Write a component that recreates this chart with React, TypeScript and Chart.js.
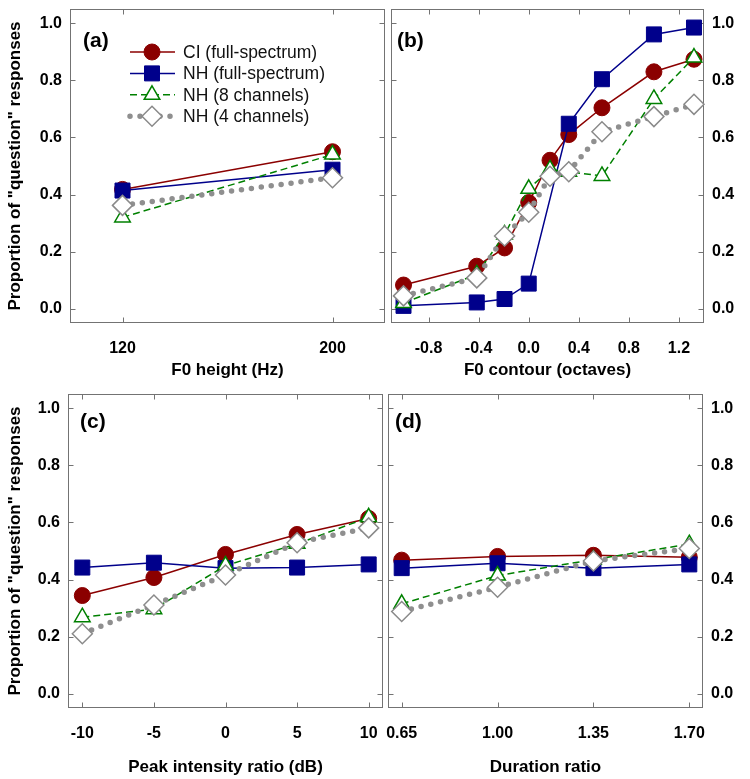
import React, { useEffect, useRef } from 'react';
import { Chart, registerables } from 'chart.js';

Chart.register(...registerables);

const FONT = "'Liberation Sans', Arial, Helvetica, sans-serif";

// ---------- data ----------
const seriesNames = ['CI (full-spectrum)', 'NH (full-spectrum)', 'NH (8 channels)', 'NH (4 channels)'];
const yTickValues = [0, 0.2, 0.4, 0.6, 0.8, 1.0];
const yTitle = 'Proportion of "question" responses';

// (a) F0 height
const aX = [120, 200];
const aTicks = [120, 200];
const aCI = [0.418, 0.55];
const aNHfull = [0.414, 0.487];
const aNH8 = [0.32, 0.54];
const aNH4 = [0.362, 0.459];

// (b) F0 contour
const bX = [-1.0, -0.415, -0.193, 0, 0.17, 0.32, 0.585, 1.0, 1.32];
const bTicks = [-0.8, -0.4, 0, 0.4, 0.8, 1.2];
const bCI = [0.083, 0.149, 0.213, 0.372, 0.52, 0.61, 0.704, 0.83, 0.874];
const bNHfull = [0.01, 0.022, 0.034, 0.088, null, 0.648, 0.804, 0.961, 0.985];
const bNH8 = [0.02, 0.12, 0.26, 0.42, 0.488, 0.48, 0.465, 0.735, 0.88];
const bNH4 = [0.045, 0.108, 0.255, 0.338, 0.464, 0.48, 0.62, 0.673, 0.716];

// (c) Peak intensity ratio
const cX = [-10, -5, 0, 5, 10];
const cTicks = [-10, -5, 0, 5, 10];
const cCI = [0.344, 0.407, 0.488, 0.558, 0.614];
const cNHfull = [0.442, 0.459, 0.44, 0.442, 0.453];
const cNH8 = [0.268, 0.296, 0.449, 0.525, 0.618];
const cNH4 = [0.21, 0.311, 0.416, 0.529, 0.581];

// (d) Duration ratio
const dX = [0.65, 1.0, 1.35, 1.7];
const dTicks = [0.65, 1.0, 1.35, 1.7];
const dCI = [0.468, 0.481, 0.485, 0.478];
const dNHfull = [0.44, 0.457, 0.44, 0.453];
const dNH8 = [0.315, 0.414, 0.47, 0.524];
const dNH4 = [0.288, 0.373, 0.465, 0.509];

// ---------- styles ----------
type Sty = { line: string; dash: number[]; lw: number; cap: CanvasLineCap; ps: string; r: number; fill: string; pb: string; pbw: number };
const STYLES: Sty[] = [
  { line: '#8b0000', dash: [], lw: 1.5, cap: 'butt', ps: 'circle', r: 8, fill: '#8b0000', pb: '#8b0000', pbw: 1 },
  { line: '#00008b', dash: [], lw: 1.5, cap: 'butt', ps: 'rect', r: 10.6, fill: '#00008b', pb: '#00008b', pbw: 1 },
  { line: '#008000', dash: [7, 4], lw: 1.5, cap: 'butt', ps: 'triangle', r: 9, fill: '#ffffff', pb: '#008000', pbw: 1.5 },
  { line: '#8f8f8f', dash: [0, 10], lw: 5.5, cap: 'round', ps: 'rectRot', r: 10, fill: '#ffffff', pb: '#8a8a8a', pbw: 1.5 },
];

type Panel = {
  label: string; xs: number[]; series: (number | null)[][]; ticks: number[]; fmt: (v: number) => string;
  xMin: number; xMax: number; xTitle: string; yPos: 'left' | 'right'; legend: boolean;
  box: { l: number; t: number; w: number; h: number };
  pad: { left: number; top: number; right: number; bottom: number };
  yW: number; xH: number; titlePb: number; lblDx: number; lblDy: number;
};

const PANELS: Panel[] = [
  {
    label: '(a)', xs: aX, series: [aCI, aNHfull, aNH8, aNH4], ticks: aTicks, fmt: (v) => String(v),
    xMin: 100, xMax: 220, xTitle: 'F0 height (Hz)', yPos: 'left', legend: true,
    box: { l: 0, t: 0, w: 388, h: 385 }, pad: { left: 0, top: 9, right: 3, bottom: 0 },
    yW: 70, xH: 62, titlePb: 4, lblDx: 13, lblDy: 32,
  },
  {
    label: '(b)', xs: bX, series: [bCI, bNHfull, bNH8, bNH4], ticks: bTicks, fmt: (v) => v.toFixed(1),
    xMin: -1.1, xMax: 1.4, xTitle: 'F0 contour (octaves)', yPos: 'right', legend: false,
    box: { l: 388, t: 0, w: 362, h: 385 }, pad: { left: 3, top: 9, right: 0, bottom: 0 },
    yW: 46, xH: 62, titlePb: 4, lblDx: 6, lblDy: 32,
  },
  {
    label: '(c)', xs: cX, series: [cCI, cNHfull, cNH8, cNH4], ticks: cTicks, fmt: (v) => String(v),
    xMin: -11, xMax: 11, xTitle: 'Peak intensity ratio (dB)', yPos: 'left', legend: false,
    box: { l: 0, t: 385, w: 386, h: 394 }, pad: { left: 0, top: 9, right: 3, bottom: 0 },
    yW: 68, xH: 71, titlePb: 1.5, lblDx: 12, lblDy: 28,
  },
  {
    label: '(d)', xs: dX, series: [dCI, dNHfull, dNH8, dNH4], ticks: dTicks, fmt: (v) => v.toFixed(2),
    xMin: 0.6, xMax: 1.75, xTitle: 'Duration ratio', yPos: 'right', legend: false,
    box: { l: 386, t: 385, w: 364, h: 394 }, pad: { left: 2, top: 9, right: 0, bottom: 0 },
    yW: 47, xH: 71, titlePb: 1.5, lblDx: 7, lblDy: 28,
  },
];

function drawMarker(ctx: CanvasRenderingContext2D, s: Sty, x: number, y: number) {
  ctx.save();
  ctx.setLineDash([]);
  ctx.fillStyle = s.fill;
  ctx.strokeStyle = s.pb;
  ctx.lineWidth = s.pbw;
  ctx.beginPath();
  const r = s.r;
  if (s.ps === 'circle') {
    ctx.arc(x, y, r, 0, Math.PI * 2);
  } else if (s.ps === 'rect') {
    const h = r * Math.SQRT1_2;
    ctx.rect(x - h, y - h, 2 * h, 2 * h);
  } else if (s.ps === 'triangle') {
    ctx.moveTo(x, y - r);
    ctx.lineTo(x + r * Math.sin((2 * Math.PI) / 3), y - r * Math.cos((2 * Math.PI) / 3));
    ctx.lineTo(x + r * Math.sin((4 * Math.PI) / 3), y - r * Math.cos((4 * Math.PI) / 3));
    ctx.closePath();
  } else {
    ctx.moveTo(x - r, y);
    ctx.lineTo(x, y - r);
    ctx.lineTo(x + r, y);
    ctx.lineTo(x, y + r);
    ctx.closePath();
  }
  ctx.fill();
  ctx.stroke();
  ctx.restore();
}

const decoPlugin = {
  id: 'panelDeco',
  beforeDatasetsDraw(chart: any) {
    const { ctx, chartArea: ca, scales } = chart;
    const L = Math.round(ca.left) + 0.5, R = Math.round(ca.right) - 0.5;
    const T = Math.round(ca.top) + 0.5, B = Math.round(ca.bottom) - 0.5;
    ctx.save();
    ctx.strokeStyle = '#737373';
    ctx.lineWidth = 1;
    ctx.setLineDash([]);
    ctx.strokeRect(L, T, R - L, B - T);
    const tl = 5;
    ctx.beginPath();
    for (const t of scales.x.ticks) {
      const px = Math.round(scales.x.getPixelForValue(t.value)) + 0.5;
      ctx.moveTo(px, B); ctx.lineTo(px, B - tl);
      ctx.moveTo(px, T); ctx.lineTo(px, T + tl);
    }
    for (const t of scales.y.ticks) {
      const py = Math.round(scales.y.getPixelForValue(t.value)) + 0.5;
      ctx.moveTo(L, py); ctx.lineTo(L + tl, py);
      ctx.moveTo(R, py); ctx.lineTo(R - tl, py);
    }
    ctx.stroke();
    ctx.restore();
  },
  afterDraw(chart: any, _args: any, opts: any) {
    const { ctx, chartArea: ca } = chart;
    ctx.save();
    ctx.fillStyle = '#000';
    ctx.font = `bold 21px ${FONT}`;
    ctx.textAlign = 'left';
    ctx.textBaseline = 'middle';
    ctx.fillText(opts.label, ca.left + opts.dx, ca.top + opts.dy);
    if (opts.legend) {
      const x1 = ca.left + 60, x2 = ca.left + 105, xm = ca.left + 82, xt = ca.left + 113;
      seriesNames.forEach((name, i) => {
        const s = STYLES[i];
        const y = ca.top + 43 + i * 21.4;
        ctx.save();
        ctx.strokeStyle = s.line;
        ctx.lineWidth = s.lw;
        ctx.lineCap = s.cap;
        ctx.setLineDash(s.dash);
        ctx.beginPath();
        ctx.moveTo(x1, y);
        ctx.lineTo(x2, y);
        ctx.stroke();
        ctx.restore();
        drawMarker(ctx, s, xm, y);
        ctx.fillStyle = '#111';
        ctx.font = `17.5px ${FONT}`;
        ctx.textBaseline = 'middle';
        ctx.fillText(name, xt, y + 1);
      });
    }
    ctx.restore();
  },
};

function makeConfig(p: Panel): any {
  const datasets = p.series.map((ys, i) => {
    const s = STYLES[i];
    return {
      label: seriesNames[i],
      data: p.xs.map((x, j) => ({ x, y: ys[j] })),
      borderColor: s.line,
      borderWidth: s.lw,
      borderDash: s.dash,
      borderCapStyle: s.cap,
      pointStyle: s.ps,
      pointRadius: s.r,
      pointHoverRadius: s.r,
      pointBackgroundColor: s.fill,
      pointBorderColor: s.pb,
      pointBorderWidth: s.pbw,
      fill: false,
      tension: 0,
      spanGaps: true,
      clip: false,
      order: 4 - i,
    };
  });
  const tickFont = { family: FONT, size: 16, weight: 'bold' as const };
  const titleFont = { family: FONT, size: 17, weight: 'bold' as const };
  const zeroPad = (sc: any) => {
    sc.paddingLeft = 0; sc.paddingRight = 0; sc.paddingTop = 0; sc.paddingBottom = 0;
  };
  return {
    type: 'line',
    data: { datasets },
    plugins: [decoPlugin],
    options: {
      responsive: false,
      animation: false,
      maintainAspectRatio: false,
      layout: { padding: p.pad, autoPadding: false },
      events: [],
      plugins: {
        legend: { display: false },
        tooltip: { enabled: false },
        panelDeco: { label: p.label, dx: p.lblDx, dy: p.lblDy, legend: p.legend },
      },
      scales: {
        x: {
          type: 'linear',
          min: p.xMin,
          max: p.xMax,
          afterBuildTicks: (sc: any) => { sc.ticks = p.ticks.map((v) => ({ value: v })); },
          afterFit: (sc: any) => { sc.height = p.xH; zeroPad(sc); },
          grid: { display: false, drawTicks: false },
          border: { display: false },
          ticks: { font: tickFont, color: '#000', padding: 16, autoSkip: false, maxRotation: 0, callback: (v: number) => p.fmt(v) },
          title: { display: true, text: p.xTitle, font: titleFont, color: '#000', padding: { top: 0, bottom: p.titlePb } },
        },
        y: {
          type: 'linear',
          position: p.yPos,
          min: -0.05,
          max: 1.05,
          afterBuildTicks: (sc: any) => { sc.ticks = yTickValues.map((v) => ({ value: v })); },
          afterFit: (sc: any) => { sc.width = p.yW; zeroPad(sc); },
          grid: { display: false, drawTicks: false },
          border: { display: false },
          ticks: { font: tickFont, color: '#000', padding: 8, autoSkip: false, callback: (v: number) => v.toFixed(1) },
          title: { display: p.yPos === 'left', text: yTitle, font: titleFont, color: '#000', padding: { top: 5, bottom: 0 } },
        },
      },
    },
  };
}

export default function App() {
  const refs = useRef<(HTMLCanvasElement | null)[]>([]);
  useEffect(() => {
    const charts = PANELS.map((p, i) => new Chart(refs.current[i] as HTMLCanvasElement, makeConfig(p)));
    return () => charts.forEach((c) => c.destroy());
  }, []);
  return (
    <div style={{ position: 'fixed', left: 0, top: 0, width: 750, height: 779, background: '#fff' }}>
      {PANELS.map((p, i) => (
        <canvas
          key={i}
          ref={(el) => { refs.current[i] = el; }}
          width={p.box.w}
          height={p.box.h}
          style={{ position: 'absolute', left: p.box.l, top: p.box.t, width: p.box.w, height: p.box.h, display: 'block' }}
        />
      ))}
    </div>
  );
}
